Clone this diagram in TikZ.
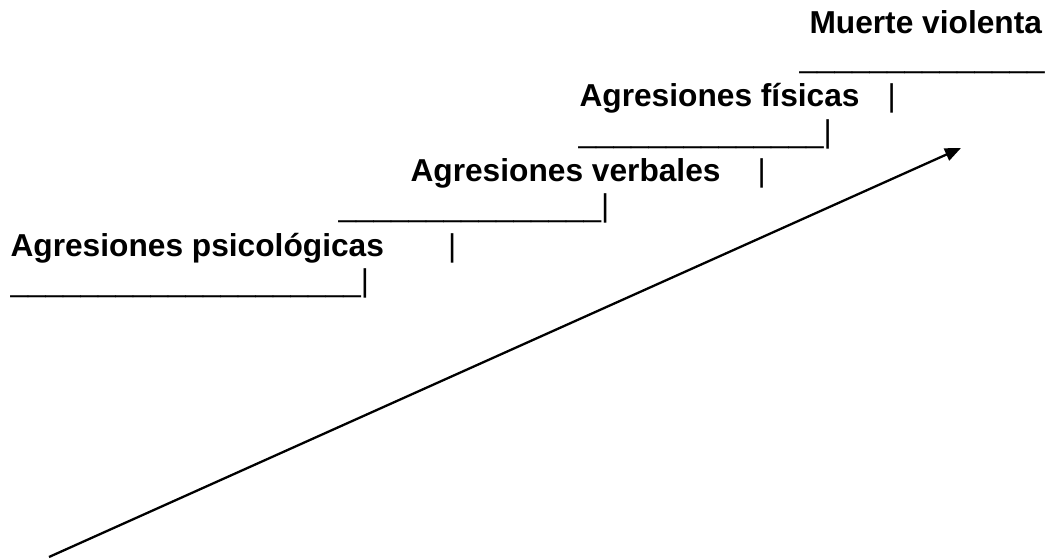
\documentclass[tikz,border=0pt]{standalone}
\usepackage{fontspec}
\setmainfont{Liberation Sans}
\usetikzlibrary{arrows.meta}
\tikzset{
  lbl/.style={anchor=base west, inner sep=0pt, outer sep=0pt, font=\fontsize{31.7}{37}\selectfont\bfseries},
  rule/.style={anchor=base west, inner sep=0pt, outer sep=0pt, font=\fontsize{31.5}{37}\selectfont},
  arr/.style={line width=2.3pt, -{Triangle[length=16pt,width=13pt]}}
}
\begin{document}
\begin{tikzpicture}[x=1pt,y=-1pt]
\useasboundingbox (0,0) rectangle (1045,559);
% line 1
\node[lbl] (mv) at (809.5,34) {Muerte violenta};
% line 2
\node[rule] (u1) at (799.5,68) {\_\_\_\_\_\_\_\_\_\_\_\_\_\_};
% line 3
\node[lbl] (af) at (579.5,107) {Agresiones físicas};
\node[rule] (p1) at (887.7,107) {|};
% line 4
\node[rule] (u2) at (578.5,142.5) {\_\_\_\_\_\_\_\_\_\_\_\_\_\_|};
% line 5
\node[lbl] (av) at (410.5,181.5) {Agresiones verbales};
\node[rule] (p2) at (757.7,181.5) {|};
% line 6
\node[rule] (u3) at (338.5,217) {\_\_\_\_\_\_\_\_\_\_\_\_\_\_\_|};
% line 7
\node[lbl] (ap) at (10.5,256) {Agresiones psicológicas};
\node[rule] (p3) at (448.2,256) {|};
% line 8
\node[rule] (u4) at (10.5,291.4) {\_\_\_\_\_\_\_\_\_\_\_\_\_\_\_\_\_\_\_\_|};
% arrow
\coordinate (s) at (49,557);
\coordinate (e) at (961,148);
\draw[arr] (s) -- (e);
\end{tikzpicture}
\end{document}
